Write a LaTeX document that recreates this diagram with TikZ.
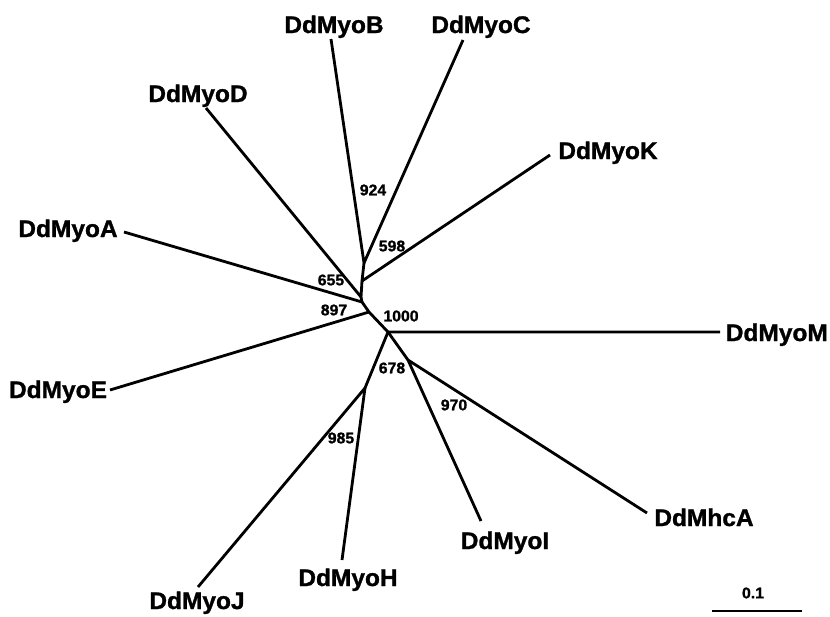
\documentclass[tikz,border=0pt]{standalone}
\usepackage{fontspec}
\setmainfont{Liberation Sans}
\newfontfamily\leaffont{Liberation Sans Bold}[FakeBold=1.2,FakeStretch=1.02]
\begin{document}
\begin{tikzpicture}[x=1pt,y=-1pt,
  branch/.style={line width=2.8pt,line join=round},
  leaf/.style={font=\fontsize{24}{24}\leaffont,inner sep=0pt,anchor=base},
  boot/.style={font=\fontsize{15.5}{16}\leaffont,inner sep=0pt,anchor=center}]
\useasboundingbox (0,0) rectangle (830,616);
% internal nodes
\coordinate (n1) at (364,263);
\coordinate (n2) at (362,281);
\coordinate (n3) at (361,297);
\coordinate (n4) at (362,302);
\coordinate (n5) at (369,312);
\coordinate (n6) at (388,332);
\coordinate (n7) at (365,388);
\coordinate (n8) at (408,360);
% leaf ends
\coordinate (eB) at (331,39);
\coordinate (eC) at (463,40);
\coordinate (eD) at (206,108);
\coordinate (eK) at (550,155);
\coordinate (eA) at (124,232);
\coordinate (eE) at (110,390);
\coordinate (eM) at (720,332);
\coordinate (eMhcA) at (647,513);
\coordinate (eI) at (481,521);
\coordinate (eH) at (342,560);
\coordinate (eJ) at (198,587);
% labels
\node[leaf] (lB) at (334,33) {DdMyoB};
\node[leaf] (lC) at (481,33) {DdMyoC};
\node[leaf] (lD) at (198,102) {DdMyoD};
\node[leaf] (lK) at (608,159) {DdMyoK};
\node[leaf] (lA) at (68,237) {DdMyoA};
\node[leaf] (lE) at (58,398) {DdMyoE};
\node[leaf,anchor=base east] (lM) at (828,341) {DdMyoM};
\node[leaf] (lMhcA) at (704,526) {DdMhcA};
\node[leaf] (lI) at (505,549) {DdMyoI};
\node[leaf] (lH) at (348,586) {DdMyoH};
\node[leaf] (lJ) at (197,609) {DdMyoJ};
% branches
\draw[branch] (eB) -- (n1) -- (eC);
\draw[branch] (n1) -- (n2) -- (eK);
\draw[branch] (n2) -- (n3) -- (eD);
\draw[branch] (n3) -- (n4) -- (eA);
\draw[branch] (n4) -- (n5) -- (eE);
\draw[branch] (n5) -- (n6) -- (eM);
\draw[branch] (n6) -- (n7);
\draw[branch] (eJ) -- (n7) -- (eH);
\draw[branch] (n6) -- (n8);
\draw[branch] (eI) -- (n8) -- (eMhcA);
% bootstrap values
\node[boot] (b924) at (373,190) {924};
\node[boot] (b598) at (392,246) {598};
\node[boot] (b655) at (331,280) {655};
\node[boot] (b897) at (334,310) {897};
\node[boot] (b1000) at (401,316) {1000};
\node[boot] (b678) at (392,368) {678};
\node[boot] (b970) at (454,405) {970};
\node[boot] (b985) at (341,438) {985};
% scale bar
\coordinate (s1) at (712,611);
\coordinate (s2) at (802,611);
\draw[line width=2.4pt] (s1) -- (s2);
\node[boot] (sl) at (753,593) {0.1};
\end{tikzpicture}
\end{document}
